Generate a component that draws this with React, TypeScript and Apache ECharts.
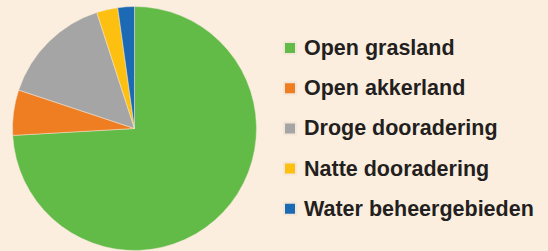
import React, { useEffect, useRef } from "react";
import * as echarts from "echarts";

const categories = ["Open grasland", "Open akkerland", "Droge dooradering", "Natte dooradering", "Water beheergebieden"];
const values = [74.1, 6.0, 14.9, 2.8, 2.2];
const colors = ["#62bb47", "#ef7d22", "#a5a5a5", "#fec010", "#1d6ab4"];

export default function App() {
  const ref = useRef<HTMLDivElement>(null);
  useEffect(() => {
    const chart = echarts.init(ref.current!, null, { renderer: "svg" });
    chart.setOption({
      animation: false,
      backgroundColor: "#fbeedf",
      color: colors,
      legend: {
        orient: "vertical",
        left: 283,
        top: 37,
        itemWidth: 12,
        itemHeight: 12,
        itemGap: 18.2,
        icon: "rect",
        textStyle: {
          fontFamily: "Liberation Sans, Arial, sans-serif",
          fontWeight: "bold",
          fontSize: 21.5,
          lineHeight: 21.5,
          color: "#231f20",
          padding: [0, 0, 0, 3],
        },
        padding: 0,
        data: categories,
      },
      series: [
        {
          type: "pie",
          center: [134.5, 128.5],
          radius: 122,
          startAngle: 90,
          clockwise: true,
          label: { show: false },
          labelLine: { show: false },
          itemStyle: { borderColor: "#f3e6d6", borderWidth: 0.5 },
          emphasis: { disabled: true },
          data: categories.map((name, i) => ({ name, value: values[i] })),
        },
      ],
    });
    return () => chart.dispose();
  }, []);
  return <div ref={ref} style={{ position: "fixed", left: 0, top: 0, width: 548, height: 251 }} />;
}
